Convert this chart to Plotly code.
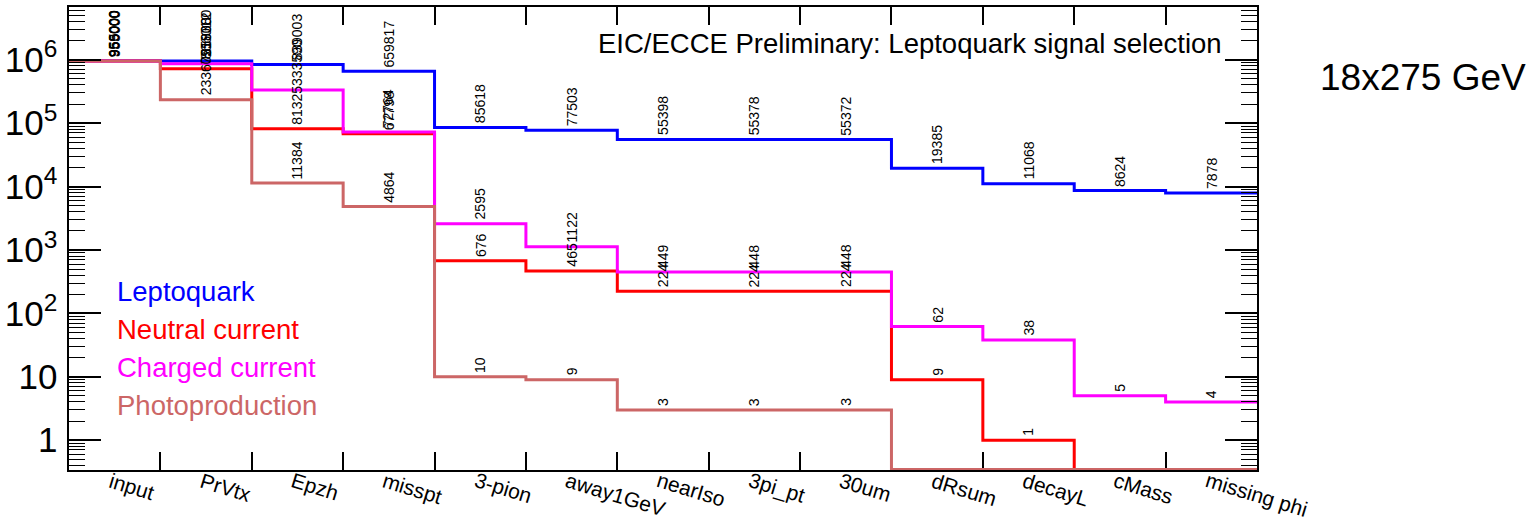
import math
import plotly.graph_objects as go

# Selection steps (one histogram bin per cut)
cuts = ["input", "PrVtx", "Epzh", "misspt", "3-pion", "away1GeV", "nearIso",
        "3pi_pt", "30um", "dRsum", "decayL", "cMass", "missing phi"]

# Events surviving each cut, per sample
leptoquark = [965000, 958000, 839003, 659817, 85618, 77503, 55398, 55378, 55372,
              19385, 11068, 8624, 7878]
neutral_current = [955000, 721938, 81325, 67798, 676, 465, 224, 224, 224, 9, 1, 0, 0]
charged_current = [959000, 866012, 333590, 72764, 2595, 1122, 449, 448, 448, 62, 38, 5, 4]
photoproduction = [956000, 233605, 11384, 4864, 10, 9, 3, 3, 3, 0, 0, 0, 0]

series = [
    ("Leptoquark", leptoquark, "#0000ff"),
    ("Neutral current", neutral_current, "#ff0000"),
    ("Charged current", charged_current, "#ff00ff"),
    ("Photoproduction", photoproduction, "#cc6666"),
]

Y_LOG_MIN, Y_LOG_MAX = -0.471, 6.832
# empty bins sit on the floor of the log axis, like a ROOT histogram
floor_val = 10 ** (Y_LOG_MIN + 0.006)

FONT = "Liberation Sans, Arial, sans-serif"

W, H = 1537, 525
L, R, T, B = 65, 280, 5, 55
pw, ph = W - L - R, H - T - B


def px_to_paper(x, y):
    return (x - L) / pw, 1 - (y - T) / ph


fig = go.Figure()
edges = list(range(len(cuts) + 1))

annotations = []
for name, vals, color in series:
    yv = [v if v > 0 else floor_val for v in vals]
    fig.add_trace(go.Scatter(
        x=edges, y=yv + [yv[-1]], mode="lines", name=name,
        line=dict(color=color, width=3, shape="hv"), showlegend=False,
        hoverinfo="skip"))
    # bin contents written vertically above each bin
    for i, v in enumerate(vals):
        if v <= 0:
            continue
        annotations.append(dict(
            x=i + 0.5, y=math.log10(v), xref="x", yref="y",
            text=str(v), showarrow=False, textangle=-90,
            xanchor="center", yanchor="bottom", yshift=2,
            font=dict(family=FONT, size=14, color="black")))

# tilted bin labels under the axis
for i, c in enumerate(cuts):
    annotations.append(dict(
        x=i + 0.5, y=0, xref="x", yref="paper", text=c, showarrow=False,
        textangle=17, xanchor="left", yanchor="top", xshift=-11, yshift=4,
        font=dict(family=FONT, size=21, color="black")))

# legend as coloured text
for k, (name, vals, color) in enumerate(series):
    px, py = px_to_paper(111, 291 + 38 * k)
    annotations.append(dict(
        x=px, y=py, xref="paper", yref="paper", text=name,
        showarrow=False, xanchor="left", yanchor="middle",
        font=dict(family=FONT, size=27.5, color=color)))

tx, ty = px_to_paper(1224, 42)
annotations.append(dict(
    x=tx, y=ty, xref="paper", yref="paper",
    text="EIC/ECCE Preliminary: Leptoquark signal selection",
    showarrow=False, xanchor="right", yanchor="middle",
    font=dict(family=FONT, size=27.5, color="black")))
ex, ey = px_to_paper(1529, 76)
annotations.append(dict(
    x=ex, y=ey, xref="paper", yref="paper", text="18x275 GeV",
    showarrow=False, xanchor="right", yanchor="middle",
    font=dict(family=FONT, size=37, color="black")))

fig.update_layout(
    annotations=annotations,
    width=W, height=H,
    margin=dict(l=L, r=R, t=T, b=B, pad=0),
    paper_bgcolor="white", plot_bgcolor="white",
    xaxis=dict(
        range=[0, len(cuts)], tickvals=list(range(1, len(cuts))),
        showticklabels=False, ticks="inside", ticklen=18, tickwidth=2,
        tickcolor="black", showline=True, linecolor="black", linewidth=2,
        mirror="allticks", showgrid=False, zeroline=False, fixedrange=True,
        layer="below traces"),
    yaxis=dict(
        type="log", range=[Y_LOG_MIN, Y_LOG_MAX], dtick=1,
        exponentformat="power", ticks="inside", ticklen=32, tickwidth=2,
        tickcolor="black", showline=True, linecolor="black", linewidth=2,
        mirror="allticks", showgrid=False, zeroline=False,
        tickfont=dict(family=FONT, size=28, color="black"),
        ticklabelstandoff=4,
        minor=dict(ticks="inside", ticklen=16, tickwidth=1,
                   tickcolor="black", dtick="D1", showgrid=False),
        fixedrange=True),
)

fig.write_html("out.html")
